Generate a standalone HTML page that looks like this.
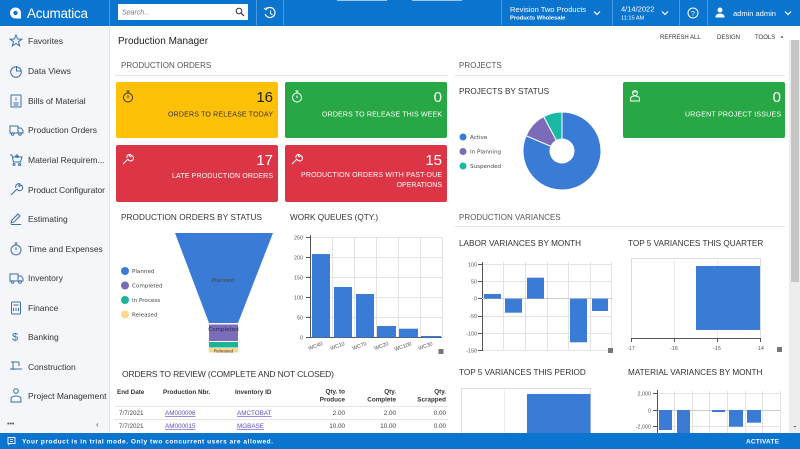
<!DOCTYPE html>
<html><head><meta charset="utf-8">
<style>
html,body{margin:0;padding:0;width:800px;height:449px;overflow:hidden;background:#fff}
svg{display:block}
text{font-family:"Liberation Sans",sans-serif}
.sb{font-size:8.5px;fill:#333}
.sec{font-size:8px;fill:#555}
.ct{font-size:8.2px;fill:#333}
.lg{font-family:"DejaVu Sans",sans-serif;font-size:5.6px;fill:#444}
.ax{font-family:"DejaVu Sans",sans-serif;font-size:5.4px;fill:#555}
.th{font-size:6.3px;fill:#333;font-weight:bold}
.td{font-size:6.3px;fill:#444}
.lk{font-size:6.3px;fill:#5b4fc4;text-decoration:underline}
.ic{fill:none;stroke:#3b6fa9;stroke-width:1}
</style></head><body>
<svg width="800" height="449" viewBox="0 0 800 449" xmlns="http://www.w3.org/2000/svg">
<!-- top bar -->
<rect x="0" y="0" width="800" height="26" fill="#0b74ce"/>
<path d="M109.5 0V26M256.5 0V26M283.5 0V26M501.5 0V26M612.5 0V26M679.5 0V26M707.5 0V26" stroke="#4a98de" stroke-width="1"/>
<rect x="337" y="0" width="50" height="1" fill="#9cc8ef"/><rect x="412" y="0" width="50" height="1" fill="#9cc8ef"/>
<circle cx="15.5" cy="13" r="5.5" fill="#fff"/><rect x="15.5" y="13" width="5.5" height="5.5" fill="#fff"/><circle cx="15.5" cy="13" r="2.2" fill="#0b74ce"/>
<text x="27" y="18" font-size="13.5" fill="#fff" textLength="61">Acumatica</text>
<rect x="118" y="4" width="130" height="16" fill="#fff"/>
<text x="122" y="14.5" font-size="7" fill="#777" font-style="italic">Search...</text>
<circle cx="239" cy="11" r="2.8" fill="none" stroke="#333" stroke-width="1"/><path d="M241 13L244 16" stroke="#333" stroke-width="1.2"/>
<path d="M266 9.5A5 5 0 1 1 265.2 14" fill="none" stroke="#fff" stroke-width="1.2"/><path d="M264 8l2 1.8 1-2.6" fill="none" stroke="#fff" stroke-width="1"/><path d="M270.5 10.5V13.5L272.5 15" fill="none" stroke="#fff" stroke-width="1"/>
<text x="510" y="12" font-size="7.5" fill="#fff">Revision Two Products</text>
<text x="510" y="19.5" font-size="5.8" fill="#fff" font-weight="bold">Products Wholesale</text>
<path d="M594 11.5l3 3 3-3" fill="none" stroke="#fff" stroke-width="1.2"/>
<text x="621" y="11.5" font-size="7.5" fill="#fff">4/14/2022</text>
<text x="621" y="19.5" font-size="5.6" fill="#fff">11:15 AM</text>
<path d="M662 11.5l3 3 3-3" fill="none" stroke="#fff" stroke-width="1.2"/>
<circle cx="693" cy="13" r="5" fill="none" stroke="#fff" stroke-width="1"/>
<text x="693" y="15.8" font-size="7" fill="#fff" text-anchor="middle">?</text>
<circle cx="720" cy="10" r="2.5" fill="#fff"/><path d="M715.5 17.5q0-4 4.5-4t4.5 4z" fill="#fff"/>
<text x="733" y="15.8" font-size="7.5" fill="#fff">admin admin</text>
<path d="M785 11.5l3 3 3-3" fill="none" stroke="#fff" stroke-width="1.2"/>

<!-- sidebar -->
<rect x="0" y="26" width="109" height="407" fill="#f4f6f9"/>
<path d="M109.5 26V433" stroke="#dfe3e8"/>
<g class="ic">
<polygon points="16,35 17.6,39 21.8,39.2 18.5,41.8 19.7,46 16,43.5 12.3,46 13.5,41.8 10.2,39.2 14.4,39"/>
<circle cx="16" cy="72" r="5.3"/><path d="M16.5 66v5h5" />
<rect x="11" y="95" width="10" height="12"/><path d="M13.5 103h5M13.5 105h5M16 97.5v3"/>
<rect x="10" y="126" width="8" height="7"/><path d="M18 128h3l2 2.5v2.5h-5"/><circle cx="12.5" cy="134" r="1.3"/><circle cx="20" cy="134" r="1.3"/>
<path d="M10 155h2l1.5 7h7l1.5-5h-9"/><circle cx="14" cy="164.5" r="1"/><circle cx="19.5" cy="164.5" r="1"/><path d="M17 154v4M15 156h4"/>
<path d="M11 195l6-6M17 189a3 3 0 1 0 4-4l-1.5 1.5-1-1 1.5-1.5a3 3 0 0 0-4 4"/>
<path d="M11 223l1-3 6-6 2 2-6 6zM11 224.5h10"/>
<circle cx="16" cy="250" r="5"/><path d="M16 245v-2M14.5 243h3M16 247.5v3"/>
<rect x="10" y="274" width="8" height="7"/><path d="M18 276h3l2 2.5v2.5h-5"/><circle cx="12.5" cy="282" r="1.3"/><circle cx="20" cy="282" r="1.3"/>
<rect x="11.5" y="302" width="9" height="12" rx="1"/><path d="M13.5 305h5M13.5 308v3M16 308v3M18.5 308v3"/>
<path d="M10 369h12M11 362h8M13 362v8M19 362v4"/>
<circle cx="16" cy="391" r="2.3"/><path d="M11 402v-3q0-3 5-3t5 3v3z"/>
</g>
<text x="12" y="340.5" font-size="11" fill="#3b6fa9">$</text>
<text class="sb" x="28" y="44">Favorites</text>
<text class="sb" x="28" y="74">Data Views</text>
<text class="sb" x="28" y="104">Bills of Material</text>
<text class="sb" x="28" y="133">Production Orders</text>
<text class="sb" x="28" y="163">Material Requirem...</text>
<text class="sb" x="28" y="193" textLength="77">Product Configurator</text>
<text class="sb" x="28" y="222">Estimating</text>
<text class="sb" x="28" y="252">Time and Expenses</text>
<text class="sb" x="28" y="281">Inventory</text>
<text class="sb" x="28" y="311">Finance</text>
<text class="sb" x="28" y="340">Banking</text>
<text class="sb" x="28" y="370">Construction</text>
<text class="sb" x="28" y="399">Project Management</text>
<text x="7" y="426" font-size="7" fill="#555">•••</text>
<text x="96" y="427" font-size="8" fill="#555">‹</text>

<!-- scrollbar -->
<rect x="789" y="40" width="11" height="393" fill="#ededed"/>
<rect x="791" y="40" width="8" height="242" fill="#c6c6c6"/>
<path d="M793.5 426l1.5 1.5 1.5-1.5z" fill="#555"/>

<!-- header -->
<text x="118" y="44" font-size="10" fill="#222">Production Manager</text>
<text x="660" y="39" font-size="6" fill="#333">REFRESH ALL</text>
<text x="717" y="39" font-size="6" fill="#333">DESIGN</text>
<text x="755" y="39" font-size="6" fill="#333">TOOLS</text>
<path d="M780.5 36.5h3l-1.5 1.8z" fill="#333"/>

<text class="sec" x="121" y="68">PRODUCTION ORDERS</text>
<path d="M115 75.5H448" stroke="#e4e4e4"/>
<text class="sec" x="459" y="68">PROJECTS</text>
<path d="M455 75.5H785" stroke="#e4e4e4"/>

<!-- tiles -->
<rect x="116" y="82" width="162" height="56" rx="2" fill="#ffc107"/>
<circle cx="128" cy="97.5" r="4.5" fill="none" stroke="#333" stroke-width="1"/><path d="M128 93v-2M126.5 91h3M128 95.5v2.5" stroke="#333" stroke-width="1"/>
<text x="273" y="102" font-size="15" fill="#222" text-anchor="end">16</text>
<text x="273" y="116.5" font-size="7" fill="#333" text-anchor="end" textLength="105">ORDERS TO RELEASE TODAY</text>

<rect x="285" y="82" width="162" height="56" rx="2" fill="#28a745"/>
<circle cx="297" cy="97.5" r="4.5" fill="none" stroke="#fff" stroke-width="1"/><path d="M297 93v-2M295.5 91h3M297 95.5v2.5" stroke="#fff" stroke-width="1"/>
<text x="442" y="102" font-size="15" fill="#fff" text-anchor="end">0</text>
<text x="442" y="116.5" font-size="7" fill="#fff" text-anchor="end" textLength="120">ORDERS TO RELEASE THIS WEEK</text>

<rect x="116" y="145" width="162" height="57" rx="2" fill="#dc3545"/>
<path d="M123 164l5-5M128 159a2.8 2.8 0 1 0 3.5-3.5l-1.3 1.3-1-1 1.3-1.3a2.8 2.8 0 0 0-3.5 3.5" fill="none" stroke="#fff" stroke-width="1"/>
<text x="273" y="165" font-size="15" fill="#fff" text-anchor="end">17</text>
<text x="273" y="178" font-size="7" fill="#fff" text-anchor="end" textLength="101">LATE PRODUCTION ORDERS</text>

<rect x="285" y="145" width="162" height="57" rx="2" fill="#dc3545"/>
<path d="M292 164l5-5M297 159a2.8 2.8 0 1 0 3.5-3.5l-1.3 1.3-1-1 1.3-1.3a2.8 2.8 0 0 0-3.5 3.5" fill="none" stroke="#fff" stroke-width="1"/>
<text x="442" y="165" font-size="15" fill="#fff" text-anchor="end">15</text>
<text x="442" y="177" font-size="7" fill="#fff" text-anchor="end" textLength="141">PRODUCTION ORDERS WITH PAST-DUE</text>
<text x="442" y="187" font-size="7" fill="#fff" text-anchor="end">OPERATIONS</text>

<rect x="623" y="82" width="162" height="56" rx="2" fill="#28a745"/>
<circle cx="635" cy="93" r="2.5" fill="none" stroke="#fff" stroke-width="1"/><path d="M630.5 101v-2q0-3 4.5-3t4.5 3v2zM632.5 92h5" fill="none" stroke="#fff" stroke-width="1"/>
<text x="781" y="102" font-size="15" fill="#fff" text-anchor="end">0</text>
<text x="781" y="116.5" font-size="7" fill="#fff" text-anchor="end" textLength="96">URGENT PROJECT ISSUES</text>

<!-- projects by status -->
<text class="ct" x="459" y="94">PROJECTS BY STATUS</text>
<circle cx="463" cy="137" r="3.5" fill="#3a7bd5"/><text class="lg" x="470" y="139">Active</text>
<circle cx="463" cy="151.5" r="3.5" fill="#7b6bb8"/><text class="lg" x="470" y="153.5">In Planning</text>
<circle cx="463" cy="166" r="3.5" fill="#1ab9a5"/><text class="lg" x="470" y="168">Suspended</text>
<g stroke="#fff" stroke-width="1">
<path d="M562,112 A39,39 0 1 1 526.1,135.76 L550.95,146.31 A12,12 0 1 0 562,139 Z" fill="#3a7bd5"/>
<path d="M526.1,135.76 A39,39 0 0 1 543.69,116.57 L556.37,140.41 A12,12 0 0 0 550.95,146.31 Z" fill="#7b6bb8"/>
<path d="M543.69,116.57 A39,39 0 0 1 562,112 L562,139 A12,12 0 0 0 556.37,140.41 Z" fill="#1ab9a5"/>
</g>

<!-- production orders by status -->
<text class="ct" x="121" y="220" textLength="141">PRODUCTION ORDERS BY STATUS</text>
<circle cx="125" cy="271" r="4" fill="#3a7bd5"/><text class="lg" x="132" y="273">Planned</text>
<circle cx="125" cy="285.5" r="4" fill="#7b6bb8"/><text class="lg" x="132" y="287.5">Completed</text>
<circle cx="125" cy="300" r="4" fill="#1bb39c"/><text class="lg" x="132" y="302">In Process</text>
<circle cx="125" cy="314.5" r="4" fill="#fcd98f"/><text class="lg" x="132" y="316.5">Released</text>
<polygon points="175,233 273,233 238,323 209,323" fill="#3a7bd5"/>
<text class="lg" x="223" y="282" text-anchor="middle" fill="#1a2a5a">Planned</text>
<rect x="209" y="324.5" width="29" height="16.5" fill="#7b6bb8"/>
<text class="lg" x="223.5" y="331" text-anchor="middle" style="fill:#1a2a5a">Completed</text>
<rect x="209" y="342" width="29" height="5.5" fill="#1bb39c"/>
<rect x="209" y="348" width="29" height="4.5" fill="#fcd98f"/>
<text x="223.5" y="352.3" font-family="DejaVu Sans" font-size="4.6" text-anchor="middle" fill="#333">Released</text>

<!-- work queues -->
<text class="ct" x="290" y="220">WORK QUEUES (QTY.)</text>
<g stroke="#e3e3e3" stroke-width="1">
<path d="M310 237.5H442M310 257.5H442M310 277.5H442M310 297.5H442M310 317.5H442"/>
<path d="M332.5 237V337M354.5 237V337M376.5 237V337M398.5 237V337M420.5 237V337M442.5 237V337"/>
</g>
<path d="M310.5 235V338M306 237.5h4M306 257.5h4M306 277.5h4M306 297.5h4M306 317.5h4M306 337.5h136" stroke="#555" stroke-width="1" fill="none"/>
<g class="ax" text-anchor="end">
<text x="303" y="239.5">250</text><text x="303" y="259.5">200</text><text x="303" y="279.5">150</text>
<text x="303" y="299.5">100</text><text x="303" y="319.5">50</text><text x="303" y="339.5">0</text>
</g>
<g fill="#3a7bd5">
<rect x="312" y="254" width="18" height="83.5"/>
<rect x="334" y="287" width="18" height="50.5"/>
<rect x="356" y="294" width="18" height="43.5"/>
<rect x="377" y="326" width="19" height="11.5"/>
<rect x="399" y="328.7" width="19" height="8.8"/>
<rect x="421" y="336" width="20" height="1.5"/>
</g>
<g class="ax" text-anchor="end">
<text x="323" y="345" transform="rotate(-20 323 345)">WC40</text>
<text x="345" y="345" transform="rotate(-20 345 345)">WC10</text>
<text x="367" y="345" transform="rotate(-20 367 345)">WC70</text>
<text x="389" y="345" transform="rotate(-20 389 345)">WC20</text>
<text x="412" y="345" transform="rotate(-20 412 345)">WC100</text>
<text x="433" y="345" transform="rotate(-20 433 345)">WC30</text>
</g>
<rect x="438.5" y="349" width="5" height="5" fill="#777"/>

<!-- orders to review -->
<text x="122" y="377" font-size="8.5" fill="#333" textLength="212">ORDERS TO REVIEW (COMPLETE AND NOT CLOSED)</text>
<text class="th" x="117" y="394">End Date</text>
<text class="th" x="163" y="394">Production Nbr.</text>
<text class="th" x="235" y="394">Inventory ID</text>
<g class="th" text-anchor="end">
<text x="345" y="393.5">Qty. to</text><text x="345" y="401.5">Produce</text>
<text x="396" y="393.5">Qty.</text><text x="396" y="401.5">Complete</text>
<text x="446" y="393.5">Qty.</text><text x="446" y="401.5">Scrapped</text>
</g>
<path d="M115 406.5H448M115 419.5H448" stroke="#e4e4e4"/>
<text class="td" x="119" y="415">7/7/2021</text>
<text class="lk" x="165" y="415">AM000006</text>
<text class="lk" x="237" y="415">AMCTOBAT</text>
<g class="td" text-anchor="end"><text x="345" y="415">2.00</text><text x="396" y="415">2.00</text><text x="446" y="415">0.00</text></g>
<text class="td" x="119" y="428">7/7/2021</text>
<text class="lk" x="165" y="428">AM000015</text>
<text class="lk" x="237" y="428">MGBASE</text>
<g class="td" text-anchor="end"><text x="345" y="428">10.00</text><text x="396" y="428">10.00</text><text x="446" y="428">0.00</text></g>

<!-- production variances -->
<text class="sec" x="459" y="220">PRODUCTION VARIANCES</text>
<path d="M455 226.5H785" stroke="#e4e4e4"/>
<text class="ct" x="459" y="246">LABOR VARIANCES BY MONTH</text>
<text class="ct" x="628" y="246">TOP 5 VARIANCES THIS QUARTER</text>

<g stroke="#e3e3e3" stroke-width="1">
<path d="M482 264.5H612M482 281.5H612M482 316.5H612M482 333.5H612M482 350.5H612"/>
<path d="M503.5 262V351M525.5 262V351M547.5 262V351M568.5 262V351M590.5 262V351M611.5 262V351"/>
</g>
<path d="M482.5 262V351M478 264.5h4M478 281.5h4M478 298.5h4M478 316.5h4M478 333.5h4M478 350.5h4" stroke="#555" fill="none"/>
<path d="M482 298.5H612" stroke="#ccc"/>
<g class="ax" text-anchor="end">
<text x="477" y="266.5">100</text><text x="477" y="283.5">50</text><text x="477" y="300.5">0</text>
<text x="477" y="318">-50</text><text x="477" y="335.5">-100</text><text x="477" y="352.5">-150</text>
</g>
<g fill="#3a7bd5">
<rect x="484" y="294" width="17" height="4.7"/>
<rect x="505" y="298.7" width="17" height="14"/>
<rect x="527" y="277.7" width="17" height="21"/>
<rect x="570" y="298.7" width="17" height="43.6"/>
<rect x="592" y="298.7" width="16" height="12.3"/>
</g>
<rect x="608" y="348" width="5" height="5" fill="#777"/>

<path d="M631.5 338V258.5H760.5V338" fill="none" stroke="#ddd"/>
<path d="M674.5 259V338M717.5 259V338" stroke="#ececec"/>
<rect x="696" y="266" width="64" height="64" fill="#3a7bd5"/>
<path d="M631 338.5H761M631.5 338V342M674.5 338V342M717.5 338V342M760.5 338V342" stroke="#555" fill="none"/>
<g class="ax" text-anchor="middle">
<text x="631" y="350">-17</text><text x="674" y="350">-16</text><text x="717" y="350">-15</text><text x="760" y="350">-14</text>
</g>
<rect x="777" y="347" width="5" height="5" fill="#777"/>

<text class="ct" x="459" y="375">TOP 5 VARIANCES THIS PERIOD</text>
<text class="ct" x="628" y="375">MATERIAL VARIANCES BY MONTH</text>
<path d="M461.5 433V388.5H590.5V433" fill="none" stroke="#ddd"/>
<path d="M504.5 389V433" stroke="#ececec"/>
<rect x="527" y="394" width="63.5" height="39" fill="#3a7bd5"/>

<g stroke="#e3e3e3" stroke-width="1">
<path d="M657 393.5H780M657 426.5H780"/>
<path d="M674.5 391V433M692.5 391V433M709.5 391V433M727.5 391V433M745.5 391V433M762.5 391V433M780.5 391V433"/>
</g>
<path d="M657 410.5H780" stroke="#ccc"/>
<path d="M657.5 390V433M653 393.5h4M653 410.5h4M653 426.5h4" stroke="#555" fill="none"/>
<g class="ax" text-anchor="end">
<text x="651" y="395.5">2,000</text><text x="651" y="412.5">0</text><text x="651" y="428.5">-2,000</text>
</g>
<g fill="#3a7bd5">
<rect x="659" y="410" width="13" height="20"/>
<rect x="677" y="410" width="13" height="23"/>
<rect x="712" y="410" width="13" height="2"/>
<rect x="729" y="410" width="14" height="16.7"/>
<rect x="747" y="410" width="14" height="12.7"/>
</g>

<!-- bottom bar -->
<rect x="0" y="433" width="800" height="16" fill="#0b74ce"/>
<rect x="8" y="437.5" width="7" height="6" fill="none" stroke="#fff" stroke-width="0.9"/><path d="M10 439.5h3M10 441.5h3M9.5 443.5l-1 2" stroke="#fff" stroke-width="0.8"/>
<text x="22" y="443.5" font-size="6.5" fill="#fff" font-weight="bold" textLength="251">Your product is in trial mode. Only two concurrent users are allowed.</text>
<text x="746" y="443.5" font-size="6.5" fill="#fff" font-weight="bold" textLength="33">ACTIVATE</text>
</svg>
</body></html>
